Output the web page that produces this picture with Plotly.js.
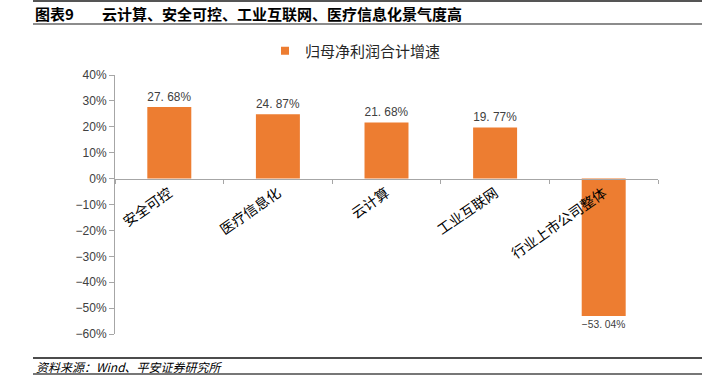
<!DOCTYPE html>
<html>
<head>
<meta charset="utf-8">
<script src="https://cdn.plot.ly/plotly-3.0.1.min.js"></script>
<style>
html,body{margin:0;padding:0;background:#fff;}
#chart{width:718px;height:377px;}
</style>
</head>
<body>
<div id="chart"></div>
<script>
const categories = ["安全可控", "医疗信息化", "云计算", "工业互联网", "行业上市公司整体"];
const growth = [27.68, 24.87, 21.68, 19.77, -53.04];
const seriesName = "归母净利润合计增速";
const yTickVals = [-60, -50, -40, -30, -20, -10, 0, 10, 20, 30, 40];
const titleLabel = "图表9";
const titleText = "云计算、安全可控、工业互联网、医疗信息化景气度高";
const sourceText = "资料来源：Wind、平安证券研究所";

const barColor = "#ED7D31";
const L = 115, R = 658, T = 75, B = 334;
const W = R - L, H = B - T;
const px = x => (x - L) / W;
const py = y => (B - y) / H;

const fmtSign = s => s.replace('-', '\u2212');
const labels = growth.map(v => fmtSign(v.toFixed(2).replace('.', '. ') + '%'));
const yTickText = yTickVals.map(v => fmtSign(v + '%'));

const traces = [
  {
    type: 'bar',
    x: categories,
    y: growth,
    marker: {color: barColor},
    text: labels,
    textposition: 'outside',
    textfont: {family: 'Liberation Sans, Arial, sans-serif', size: 12, color: '#404040'},
    cliponaxis: false,
    showlegend: false,
    hoverinfo: 'skip'
  },
  {
    type: 'scatter',
    mode: 'markers',
    x: [null],
    y: [null],
    name: seriesName,
    marker: {symbol: 'square', size: 8, color: barColor},
    showlegend: true
  }
];

const layout = {
  width: 718,
  height: 377,
  margin: {l: L, r: 718 - R, t: T, b: 377 - B, pad: 0},
  paper_bgcolor: '#fff',
  plot_bgcolor: '#fff',
  bargap: 0.595,
  showlegend: true,
  legend: {
    orientation: 'h',
    x: px(265), xanchor: 'left',
    y: py(51), yanchor: 'middle',
    font: {family: 'Noto Sans CJK SC, sans-serif', size: 15, color: '#262626'},
    bgcolor: 'rgba(0,0,0,0)'
  },
  xaxis: {
    type: 'category',
    anchor: 'free',
    position: 0.6,
    showline: true,
    linecolor: '#A6A6A6',
    linewidth: 1,
    showgrid: false,
    zeroline: false,
    ticks: 'outside',
    tickson: 'boundaries',
    ticklen: 4,
    tickcolor: '#A6A6A6',
    tickangle: -35,
    tickfont: {family: 'Noto Sans CJK SC, sans-serif', size: 14, color: '#000'}
  },
  yaxis: {
    range: [-60, 40],
    tickmode: 'array',
    tickvals: yTickVals,
    ticktext: yTickText,
    showline: true,
    linecolor: '#A6A6A6',
    linewidth: 1,
    showgrid: false,
    zeroline: false,
    ticks: 'outside',
    ticklen: 5,
    tickcolor: '#A6A6A6',
    tickfont: {family: 'Liberation Sans, Arial, sans-serif', size: 12, color: '#404040'}
  },
  shapes: [
    {type: 'line', xref: 'paper', yref: 'paper', x0: px(33), x1: px(702), y0: py(1), y1: py(1), line: {color: '#555', width: 2}},
    {type: 'line', xref: 'paper', yref: 'paper', x0: px(33), x1: px(702), y0: py(24), y1: py(24), line: {color: '#666', width: 1.5}},
    {type: 'line', xref: 'paper', yref: 'paper', x0: px(33), x1: px(702), y0: py(358), y1: py(358), line: {color: '#111', width: 1.5}},
    {type: 'line', xref: 'paper', yref: 'paper', x0: px(33), x1: px(702), y0: py(374), y1: py(374), line: {color: '#777', width: 2}}
  ],
  annotations: [
    {xref: 'paper', yref: 'paper', x: px(33), y: py(13), xanchor: 'left', yanchor: 'middle', showarrow: false,
     text: '<b>' + titleLabel + '</b>', font: {family: 'Noto Sans CJK SC, sans-serif', size: 15, color: '#000'}},
    {xref: 'paper', yref: 'paper', x: px(100), y: py(13), xanchor: 'left', yanchor: 'middle', showarrow: false,
     text: '<b>' + titleText + '</b>', font: {family: 'Noto Sans CJK SC, sans-serif', size: 15, color: '#000'}},
    {xref: 'paper', yref: 'paper', x: px(34), y: py(366), xanchor: 'left', yanchor: 'middle', showarrow: false,
     text: '<i>' + sourceText + '</i>', font: {family: 'Noto Sans CJK SC, sans-serif', size: 12, color: '#000'}}
  ]
};

Plotly.newPlot('chart', traces, layout, {displayModeBar: false, staticPlot: true});
</script>
</body>
</html>
